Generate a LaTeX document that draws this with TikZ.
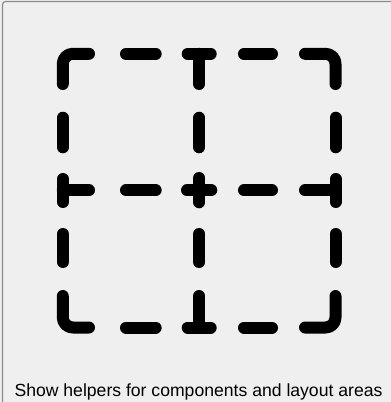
\documentclass[tikz,border=0pt]{standalone}
\usepackage{fontspec}
\setmainfont{Liberation Sans}
\definecolor{bgc}{HTML}{EFEFEF}
\definecolor{framec}{HTML}{8A8A8A}
\tikzset{
  seg/.style={line width=12pt, line cap=round, line join=round, black},
  frameline/.style={draw=framec, line width=1.2pt, rounded corners=3pt},
  caption/.style={font=\fontsize{17.6pt}{21pt}\selectfont, text=black, inner sep=0pt, anchor=base}
}
\begin{document}
\begin{tikzpicture}[x=1pt,y=-1pt]
\useasboundingbox (0,0) rectangle (391,402);
\fill[bgc] (0,0) rectangle (391,402);
\draw[frameline] (2.5,410) -- (2.5,1.5) -- (400,1.5);
% coordinates
\def\L{62.8}\def\M{199.2}\def\R{335.5}
\def\T{53.8}\def\C{190.3}\def\B{327.5}
% corners
\draw[seg, rounded corners=10pt] (\L,84) -- (\L,\T) -- (89,\T);
\draw[seg, rounded corners=10pt] (305,\T) -- (\R,\T) -- (\R,84);
\draw[seg, rounded corners=10pt] (\L,296) -- (\L,\B) -- (89,\B);
\draw[seg, rounded corners=10pt] (305,\B) -- (\R,\B) -- (\R,296);
% horizontal dashes
\foreach \y in {\T,\C,\B}{
  \draw[seg] (126,\y) -- (155.7,\y);
  \draw[seg] (244,\y) -- (272,\y);
}
% vertical dashes
\foreach \x in {\L,\M,\R}{
  \draw[seg] (\x,117.7) -- (\x,147.3);
  \draw[seg] (\x,234) -- (\x,262);
}
% T pieces top and bottom
\draw[seg] (187.7,\T) -- (210.7,\T);
\draw[seg] (\M,\T) -- (\M,84);
\draw[seg] (187.7,\B) -- (210.7,\B);
\draw[seg] (\M,\B) -- (\M,296);
% T pieces left and right
\draw[seg] (\L,179) -- (\L,202);
\draw[seg] (\L,\C) -- (89,\C);
\draw[seg] (\R,179) -- (\R,202);
\draw[seg] (\R,\C) -- (305,\C);
% plus
\draw[seg] (\M,178) -- (\M,202.3);
\draw[seg] (187,\C) -- (211.3,\C);
% caption
\node[caption] (cap) at (198.5,396.8) {Show helpers for components and layout areas};
\end{tikzpicture}
\end{document}
